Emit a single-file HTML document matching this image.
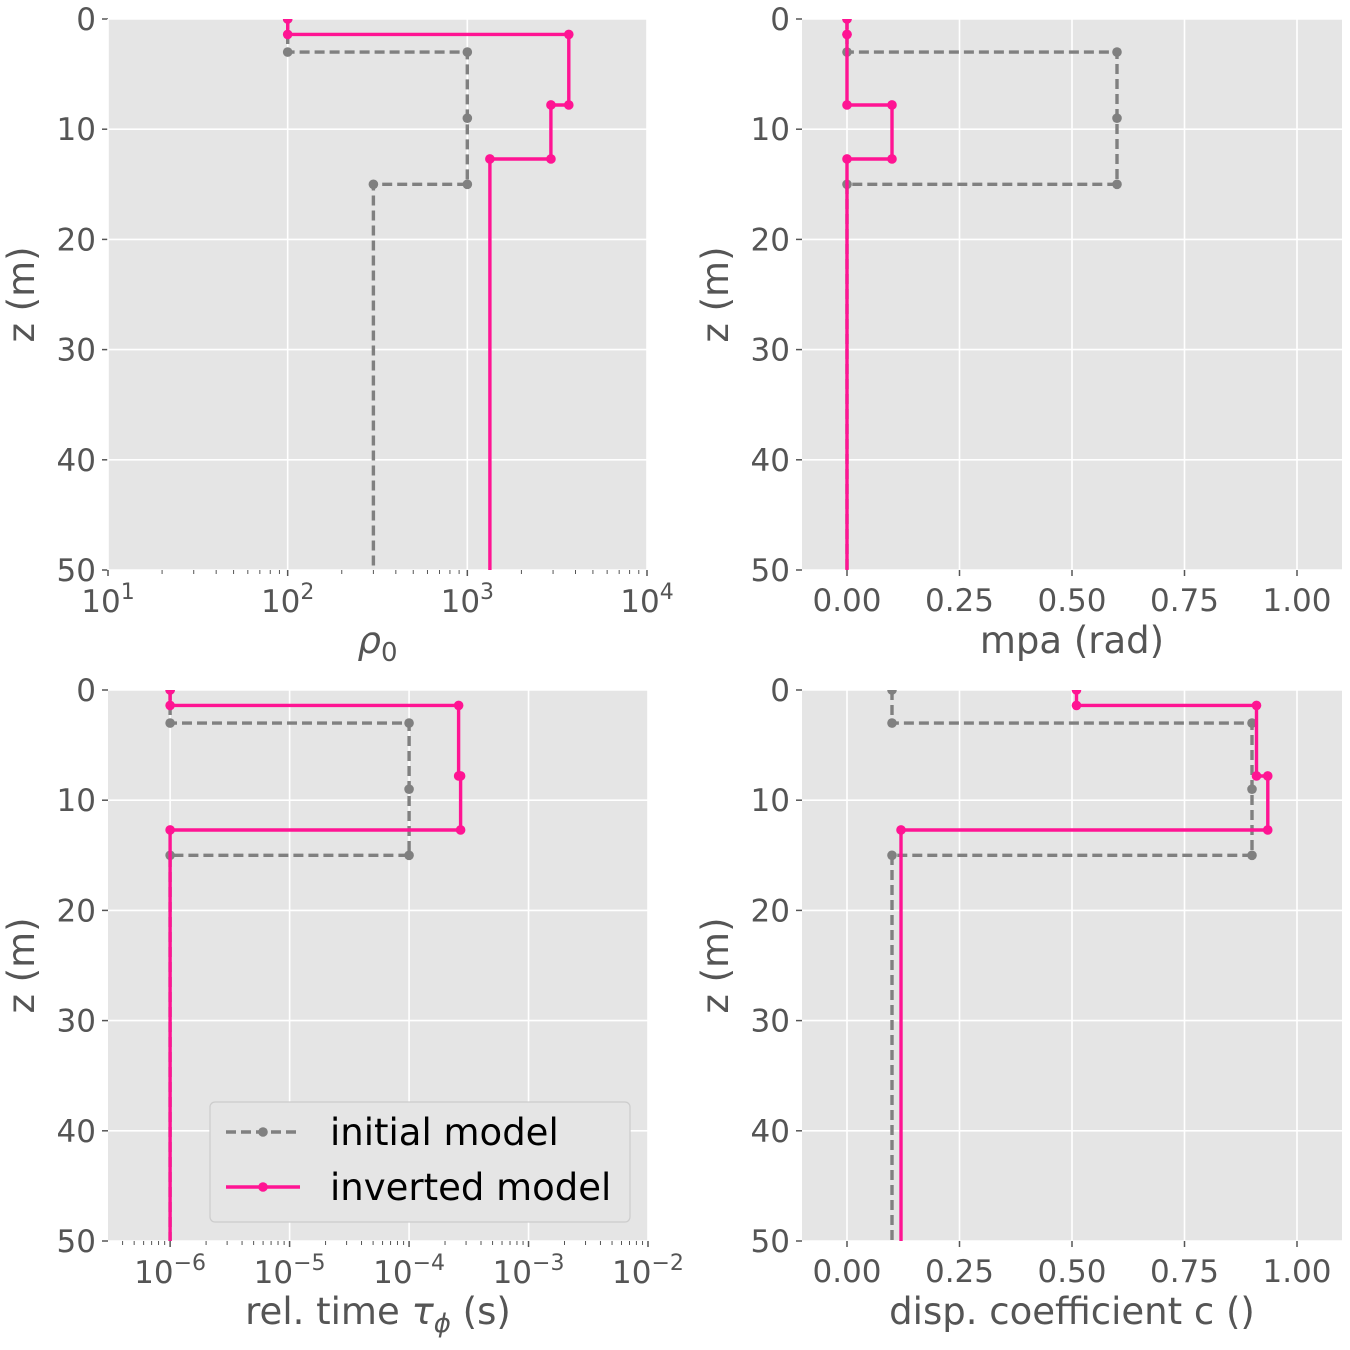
<!DOCTYPE html>
<html><head><meta charset="utf-8"><style>
html,body{margin:0;padding:0;background:#fff}
svg{display:block;font-family:"DejaVu Sans","Liberation Sans",sans-serif}
</style></head><body>
<svg id="c" width="1350" height="1350" xmlns="http://www.w3.org/2000/svg">
<defs>
<clipPath id="cTL"><rect x="108" y="19" width="539" height="551"/></clipPath>
<clipPath id="cTR"><rect x="802" y="19" width="540" height="551"/></clipPath>
<clipPath id="cBL"><rect x="108" y="690" width="540" height="551"/></clipPath>
<clipPath id="cBR"><rect x="802" y="690" width="540" height="551"/></clipPath>
</defs>
</svg>
<script>
// data
const initDepth = [0,3,3,9,15,15,50];
const invDepth = [0,1.4,1.4,7.8,7.8,12.7,12.7,50];
const initRho = [100,100,1000,1000,1000,300,300];
const invRho = [100,100,3670,3670,2920,2920,1335,1335];
const initMpa = [0,0,0.6,0.6,0.6,0,0];
const invMpa = [0,0,0,0,0.1,0.1,0,0];
const initTau = [1e-6,1e-6,1e-4,1e-4,1e-4,1e-6,1e-6];
const invTau = [1e-6,1e-6,2.6e-4,2.6e-4,2.7e-4,2.7e-4,1e-6,1e-6];
const initC = [0.1,0.1,0.9,0.9,0.9,0.1,0.1];
const invC = [0.51,0.51,0.91,0.91,0.935,0.935,0.12,0.12];
const zTicks = [0,10,20,30,40,50];
const linTicks = [0,0.25,0.5,0.75,1.0];
const linTickLabels = ["0.00","0.25","0.50","0.75","1.00"];
const rhoExp = [1,2,3,4];
const tauExp = [-6,-5,-4,-3,-2];

const svg = document.getElementById('c');
const NS = 'http://www.w3.org/2000/svg';
function mk(tag, attrs, parent){const e=document.createElementNS(NS,tag);for(const k in attrs)e.setAttribute(k,attrs[k]);(parent||svg).appendChild(e);return e;}

const panels = [
 {id:'TL',x0:108,x1:647,y0:19,y1:570,log:true,d0:1,d1:4,init:initRho,inv:invRho,label:'rho',name:'rho-panel'},
 {id:'TR',x0:802,x1:1342,y0:19,y1:570,log:false,d0:-0.1,d1:1.1,init:initMpa,inv:invMpa,label:'mpa (rad)',name:'mpa-panel'},
 {id:'BL',x0:108,x1:648,y0:690,y1:1241,log:true,d0:-6.52,d1:-2,init:initTau,inv:invTau,label:'tau',name:'tau-panel'},
 {id:'BR',x0:802,x1:1342,y0:690,y1:1241,log:false,d0:-0.1,d1:1.1,init:initC,inv:invC,label:'disp. coefficient c ()',name:'c-panel'}
];

panels.forEach(p=>{
 const g = mk('g',{});
 
 
 const xs = v => { const t = p.log ? Math.log10(v) : v; return p.x0 + (t-p.d0)/(p.d1-p.d0)*(p.x1-p.x0); };
 const ys = z => p.y0 + z/50*(p.y1-p.y0);
 const bg = mk('rect',{x:p.x0,y:p.y0,width:p.x1-p.x0,height:p.y1-p.y0,fill:'#e5e5e5'},g);
 
 
 zTicks.forEach(z=>{
  const y=ys(z);
  mk('line',{x1:p.x0,x2:p.x1,y1:y,y2:y,stroke:'#fff','stroke-width':1.6},g);
  mk('line',{x1:p.x0-6,x2:p.x0,y1:y,y2:y,stroke:'#555','stroke-width':1.5},g);
  const t=mk('text',{x:p.x0-12,y:y+11,'text-anchor':'end','font-size':31,fill:'#555'},g);
  t.textContent=z;
  
  
 });
 if(p.log){
  const exps = p.id==='TL'?rhoExp:tauExp;
  const lo=Math.floor(p.d0), hi=Math.ceil(p.d1);
  for(let e=lo;e<hi;e++){for(let m=2;m<10;m++){const v=m*Math.pow(10,e);const lv=Math.log10(v);if(lv<p.d0||lv>p.d1)continue;const x=xs(v);mk('line',{x1:x,x2:x,y1:p.y1,y2:p.y1+4,stroke:'#555','stroke-width':1},g);}}
  exps.forEach(e=>{
   const x=xs(Math.pow(10,e));
   mk('line',{x1:x,x2:x,y1:p.y0,y2:p.y1,stroke:'#fff','stroke-width':1.6},g);
   mk('line',{x1:x,x2:x,y1:p.y1,y2:p.y1+6,stroke:'#555','stroke-width':1.5},g);
   const t=mk('text',{x:x,y:p.y1+42,'text-anchor':'middle','font-size':31,fill:'#555'},g);
   t.innerHTML='10<tspan dy="-13" font-size="22">'+(e<0?'\u2212'+(-e):e)+'</tspan>';
   
   
  });
 } else {
  linTicks.forEach((v,i)=>{
   const x=xs(v);
   mk('line',{x1:x,x2:x,y1:p.y0,y2:p.y1,stroke:'#fff','stroke-width':1.6},g);
   mk('line',{x1:x,x2:x,y1:p.y1,y2:p.y1+6,stroke:'#555','stroke-width':1.5},g);
   const t=mk('text',{x:x,y:p.y1+41,'text-anchor':'middle','font-size':31,fill:'#555'},g);
   t.textContent=linTickLabels[i];
   
   
  });
 }
 const clip = mk('g',{'clip-path':'url(#c'+p.id+')'},g);
 [[p.init,initDepth,'#808080','10,5','initial-model-line'],[p.inv,invDepth,'#ff1493','','inverted-model-line']].forEach(([vals,dep,col,dash,nm])=>{
  const pts = vals.map((v,i)=>xs(v).toFixed(1)+','+ys(dep[i]).toFixed(1)).join(' ');
  const pl = mk('polyline',{points:pts,fill:'none',stroke:col,'stroke-width':3.4,'stroke-dasharray':dash},clip);
  
  
  vals.forEach((v,i)=>{ if(dep[i]>=50) return;
   const c=mk('circle',{cx:xs(v),cy:ys(dep[i]),r:4.8,fill:col},clip);
   
   
  });
 });
 const cx=(p.x0+p.x1)/2;
 const xl=mk('text',{x:cx,y:p.y1+83,'text-anchor':'middle','font-size':37,fill:'#555'},g);
 if(p.label==='rho') xl.innerHTML='<tspan font-style="italic">ρ</tspan><tspan dy="8" font-size="26">0</tspan>';
 else if(p.label==='tau') xl.innerHTML='rel. time <tspan font-style="italic">τ</tspan><tspan dy="8" font-size="26" font-style="italic">ϕ</tspan><tspan dy="-8"> (s)</tspan>';
 else xl.textContent=p.label;
 
 
 const cy=(p.y0+p.y1)/2;
 const lx=p.x0-74;
 const yl=mk('text',{x:lx,y:cy,'text-anchor':'middle','font-size':37,fill:'#555',transform:'rotate(-90 '+lx+' '+cy+')'},g);
 yl.textContent='z (m)';
 
 
});

const lg = mk('g',{});


mk('rect',{x:210,y:1102,width:420,height:120,rx:5,fill:'#e5e5e5',stroke:'#cccccc','stroke-width':1.2},lg);
[['initial model','#808080','10,5',1132],['inverted model','#ff1493','',1187]].forEach(([t,col,dash,y])=>{
 const e=mk('g',{},lg);
 
 
 mk('line',{x1:226,x2:300,y1:y,y2:y,stroke:col,'stroke-width':3.4,'stroke-dasharray':dash},e);
 mk('circle',{cx:263,cy:y,r:4.8,fill:col},e);
 const tx=mk('text',{x:330,y:y+13,'font-size':37,fill:'#000'},e);
 tx.textContent=t;
});
</script>
</body></html>
